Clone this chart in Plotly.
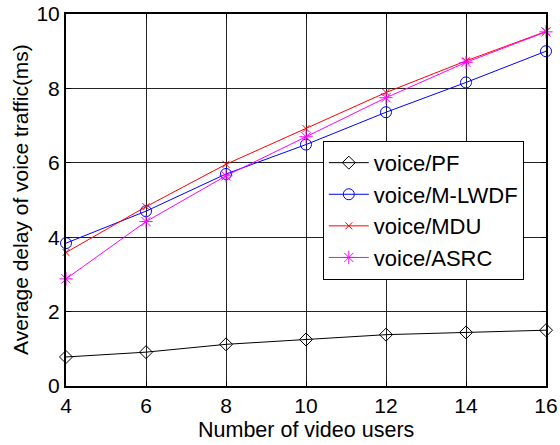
import plotly.graph_objects as go

users = [4, 6, 8, 10, 12, 14, 16]
pf = [0.78, 0.91, 1.12, 1.25, 1.38, 1.44, 1.50]
mlwdf = [3.84, 4.70, 5.70, 6.49, 7.36, 8.16, 9.00]
mdu = [3.59, 4.82, 5.96, 6.92, 7.89, 8.74, 9.53]
asrc = [2.88, 4.42, 5.65, 6.70, 7.75, 8.70, 9.52]

x_ticks = [4, 6, 8, 10, 12, 14, 16]
y_ticks = [0, 2, 4, 6, 8, 10]

FONT = "Arial, Liberation Sans, sans-serif"
FS = 22

fig = go.Figure()
series = [
    ("voice/PF", pf, "black", "diamond-open", 10),
    ("voice/M-LWDF", mlwdf, "blue", "circle-open", 11),
    ("voice/MDU", mdu, "red", "x-thin-open", 7),
    ("voice/ASRC", asrc, "magenta", "asterisk-open", 11),
]
for name, ys, col, sym, sz in series:
    fig.add_trace(go.Scatter(
        x=users, y=ys, name=name, mode="lines+markers",
        line=dict(color=col, width=1),
        marker=dict(symbol=sym, size=sz, color=col, line=dict(color=col, width=1)),
        cliponaxis=False,
    ))

axis_common = dict(
    showgrid=True, gridcolor="#222", gridwidth=1,
    showline=True, linecolor="black", linewidth=2, mirror="ticks",
    ticks="inside", ticklen=5, tickcolor="black",
    zeroline=False, automargin=False, ticklabeloverflow="allow",
    tickfont=dict(family=FONT, size=21, color="black"),
)

fig.update_xaxes(range=[4, 16], tickvals=x_ticks, ticklabelstandoff=0, **axis_common)
fig.update_yaxes(range=[0, 10], tickvals=y_ticks, **axis_common)

fig.add_annotation(text="Number of video users", xref="paper", yref="paper",
                   x=0.5, y=0, xanchor="center", yanchor="middle", yshift=-44,
                   showarrow=False, font=dict(family=FONT, size=21.5, color="black"))
fig.add_annotation(text="Average delay of voice traffic(ms)", xref="paper", yref="paper",
                   x=0, y=0.5, xanchor="center", yanchor="middle", xshift=-46,
                   textangle=-90, showarrow=False,
                   font=dict(family=FONT, size=21, color="black"))

fig.update_layout(
    width=560, height=445,
    margin=dict(l=66, r=14, t=14, b=59),
    plot_bgcolor="white", paper_bgcolor="white",
    font=dict(family=FONT, size=FS, color="black"),
    legend=dict(x=0.535, y=0.659, xanchor="left", yanchor="top",
                bgcolor="white", bordercolor="black", borderwidth=1,
                font=dict(family=FONT, size=FS, color="black"),
                tracegroupgap=0, itemwidth=40),
    showlegend=True,
)

# remove the default 8px page margin so the figure fills the window
fig.write_html("out.html", config={"displayModeBar": False},
               post_script="document.body.style.margin='0';document.body.style.overflow='hidden';")
